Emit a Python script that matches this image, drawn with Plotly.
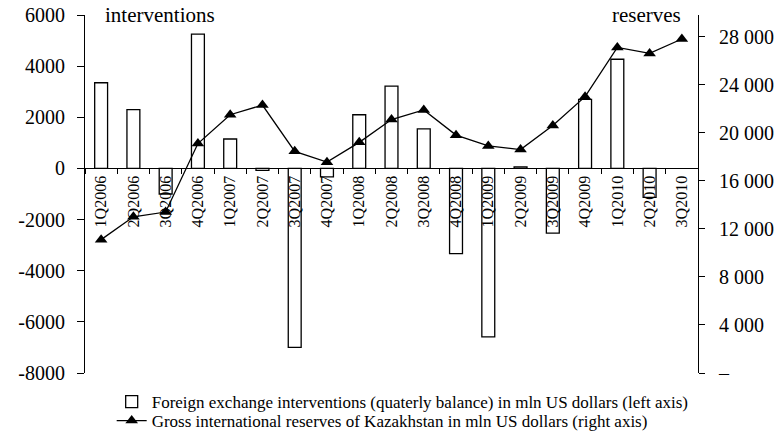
import plotly.graph_objects as go

quarters = ["1Q2006", "2Q2006", "3Q2006", "4Q2006",
            "1Q2007", "2Q2007", "3Q2007", "4Q2007",
            "1Q2008", "2Q2008", "3Q2008", "4Q2008",
            "1Q2009", "2Q2009", "3Q2009", "4Q2009",
            "1Q2010", "2Q2010", "3Q2010"]

interventions = [3350, 2300, -1000, 5250,
                 1150, -80, -7000, -330,
                 2100, 3220, 1550, -3330,
                 -6590, 60, -2530, 2700,
                 4270, -1130, None]

reserves = [11100, 13000, 13400, 19100,
            21500, 22300, 18450, 17550,
            19200, 21100, 21900, 19800,
            18900, 18600, 20600, 23000,
            27100, 26600, 27800]

left_ticks = [-8000, -6000, -4000, -2000, 0, 2000, 4000, 6000]
left_labels = ["-8000", "-6000", "-4000", "-2000", "0", "2000", "4000", "6000"]
right_ticks = [0, 4000, 8000, 12000, 16000, 20000, 24000, 28000]
right_labels = ["\u2013", "4 000", "8 000", "12 000", "16 000", "20 000", "24 000", "28 000"]

FONT = "Liberation Serif"
LEFT_RANGE = [-8000, 6000]
RIGHT_RANGE = [0, 29800]
zero_pos = (0 - LEFT_RANGE[0]) / (LEFT_RANGE[1] - LEFT_RANGE[0])

fig = go.Figure()
fig.add_trace(go.Bar(
    x=quarters, y=interventions,
    name="Foreign exchange interventions (quaterly balance) in mln US dollars (left axis)",
    marker=dict(color="white", line=dict(color="black", width=1.3)),
    width=0.4, xaxis="x", yaxis="y", legend="legend",
))
fig.add_trace(go.Scatter(
    x=quarters, y=reserves, mode="lines+markers",
    name="Gross international reserves of Kazakhstan in mln US dollars (right axis)",
    line=dict(color="black", width=1.3),
    marker=dict(symbol="triangle-up", size=11, color="black"),
    xaxis="x", yaxis="y2", legend="legend2",
))

leg_common = dict(
    xref="container", yref="container", x=0.143, xanchor="left", yanchor="middle",
    font=dict(family=FONT, size=17), bgcolor="rgba(0,0,0,0)",
    borderwidth=0,
)

fig.update_layout(
    width=781, height=436,
    margin=dict(l=85, r=83, t=15, b=63, autoexpand=False),
    paper_bgcolor="white", plot_bgcolor="white",
    font=dict(family=FONT, color="black", size=16),
    xaxis=dict(
        type="category", categoryorder="array", categoryarray=quarters,
        range=[-0.5, len(quarters) - 0.5],
        anchor="free", position=zero_pos,
        showline=True, linecolor="black", linewidth=1,
        ticks="outside", ticklen=5, tickwidth=1, tickcolor="black",
        tickson="boundaries", tickangle=-90,
        tickfont=dict(family=FONT, size=16),
        showgrid=False, zeroline=False,
    ),
    xaxis2=dict(
        overlaying="x", anchor="free", position=zero_pos,
        range=[-0.5, len(quarters) - 0.5], tick0=-0.5, dtick=1,
        ticks="inside", ticklen=5, tickwidth=1, tickcolor="black",
        showticklabels=False, showline=False, showgrid=False, zeroline=False,
    ),
    yaxis=dict(
        range=LEFT_RANGE, tickvals=left_ticks, ticktext=left_labels,
        showline=True, linecolor="black", linewidth=1,
        ticks="outside", ticklen=7, tickwidth=1, tickcolor="black",
        ticklabelstandoff=8,
        tickfont=dict(family=FONT, size=20),
        showgrid=False, zeroline=False,
    ),
    yaxis3=dict(
        overlaying="y", side="left", anchor="x",
        range=LEFT_RANGE, tickvals=left_ticks,
        ticks="inside", ticklen=7, tickwidth=1, tickcolor="black",
        showticklabels=False, showline=False, showgrid=False, zeroline=False,
    ),
    yaxis2=dict(
        overlaying="y", side="right", anchor="x",
        range=RIGHT_RANGE, tickvals=right_ticks, ticktext=right_labels,
        showline=True, linecolor="black", linewidth=1,
        ticks="outside", ticklen=6, tickwidth=1, tickcolor="black",
        ticklabelstandoff=10,
        tickfont=dict(family=FONT, size=20),
        showgrid=False, zeroline=False,
    ),
    yaxis4=dict(
        overlaying="y", side="right", anchor="x",
        range=RIGHT_RANGE, tickvals=right_ticks,
        ticks="inside", ticklen=6, tickwidth=1, tickcolor="black",
        showticklabels=False, showline=False, showgrid=False, zeroline=False,
    ),
    legend=dict(y=1 - 402 / 436, **leg_common),
    legend2=dict(y=1 - 421 / 436, **leg_common),
    showlegend=True,
    annotations=[
        dict(text="interventions", xref="paper", yref="paper", x=0.029, y=1.0,
             xanchor="left", yanchor="middle", showarrow=False,
             font=dict(family=FONT, size=21)),
        dict(text="reserves", xref="paper", yref="paper", x=0.976, y=1.0,
             xanchor="right", yanchor="middle", showarrow=False,
             font=dict(family=FONT, size=21)),
    ],
)

fig.write_html("out.html", config={"displayModeBar": False},
               post_script="document.body.style.margin='0';document.body.style.padding='0';")
